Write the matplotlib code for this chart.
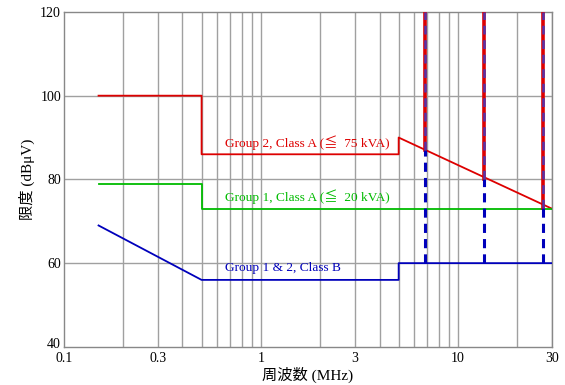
import matplotlib
matplotlib.use("Agg")
import matplotlib.pyplot as plt
import matplotlib.transforms as mtransforms
from matplotlib.ticker import FixedLocator, NullFormatter

plt.rcParams['font.family'] = ['Liberation Serif', 'Noto Sans CJK JP', 'DejaVu Sans']

# limit lines (MHz, dBuV)
g2a_f = [0.15, 0.5, 0.5, 5, 5, 30]
g2a_v = [100, 100, 86, 86, 90, 73]
g1a_f = [0.15, 0.5, 0.5, 30]
g1a_v = [79, 79, 73, 73]
clb_f = [0.15, 0.5, 5, 5, 30]
clb_v = [69, 56, 56, 60, 60]
ism_f = [6.78, 13.56, 27.12]
ism_red = [87.0, 80.0, 73.2]

xticks = [0.1, 0.3, 1, 3, 10, 30]
xtick_labels = ["0.1", "0.3", "1", "3", "10", "30"]
grid_x = [0.2, 0.3, 0.4, 0.5, 0.6, 0.7, 0.8, 0.9, 1, 2, 3, 4, 5, 6, 7, 8, 9, 10, 20, 30]
yticks = [40, 60, 80, 100, 120]

red = "#dd0000"
green = "#00bb00"
blue = "#0000bb"

fig = plt.figure(figsize=(5.65, 3.85), dpi=100)
ax = fig.add_axes([0.113, 0.099, 0.864, 0.870])
ax.set_xscale("log")
ax.set_xlim(0.1, 30)
ax.set_ylim(40, 120)

for gx in grid_x:
    ax.axvline(gx, color="#a0a0a0", lw=1, zorder=1)
for gy in [60, 80, 100]:
    ax.axhline(gy, color="#a0a0a0", lw=1, zorder=1)

ax.plot(g2a_f, g2a_v, color=red, lw=1.3, zorder=3)
ax.plot(g1a_f, g1a_v, color=green, lw=1.3, zorder=3)
ax.plot(clb_f, clb_v, color=blue, lw=1.3, zorder=3)

for f, r in zip(ism_f, ism_red):
    ax.plot([f, f], [r, 120], color=red, lw=2.6, zorder=4)
    ax.plot([f, f], [60, r], color=blue, lw=2.2, ls=(0, (3, 2)), zorder=5)
    ax.plot([f, f], [r, 120], color="#5533aa", lw=1.8, ls=(0, (3.5, 2.3)), zorder=5)

ax.text(0.66, 88.7, "Group 2, Class A (≦  75 kVA)", color=red, fontsize=9.6, va="center")
ax.text(0.66, 75.8, "Group 1, Class A (≦  20 kVA)", color=green, fontsize=9.6, va="center")
ax.text(0.66, 58.9, "Group 1 & 2, Class B", color=blue, fontsize=9.6, va="center")

ax.xaxis.set_major_locator(FixedLocator(xticks))
ax.set_xticklabels(xtick_labels)
ax.xaxis.set_minor_formatter(NullFormatter())
ax.set_yticks(yticks)
ax.tick_params(which="both", length=0, labelsize=10, pad=2)
ax.tick_params(axis="x", pad=4)
for sp in ax.spines.values():
    sp.set_color("#888888")
    sp.set_linewidth(1)
ax.set_xlabel("周波数 (MHz)", fontsize=11, labelpad=1)
ax.set_ylabel("限度 (dBμV)", fontsize=11, labelpad=4)

# nudge the bottom y label up a little so it clears "0.1"
lab40 = ax.get_yticklabels()[0]
lab40.set_transform(lab40.get_transform() + mtransforms.ScaledTranslation(0, 3 / 72, fig.dpi_scale_trans))

fig.savefig("out.png", dpi=100)
